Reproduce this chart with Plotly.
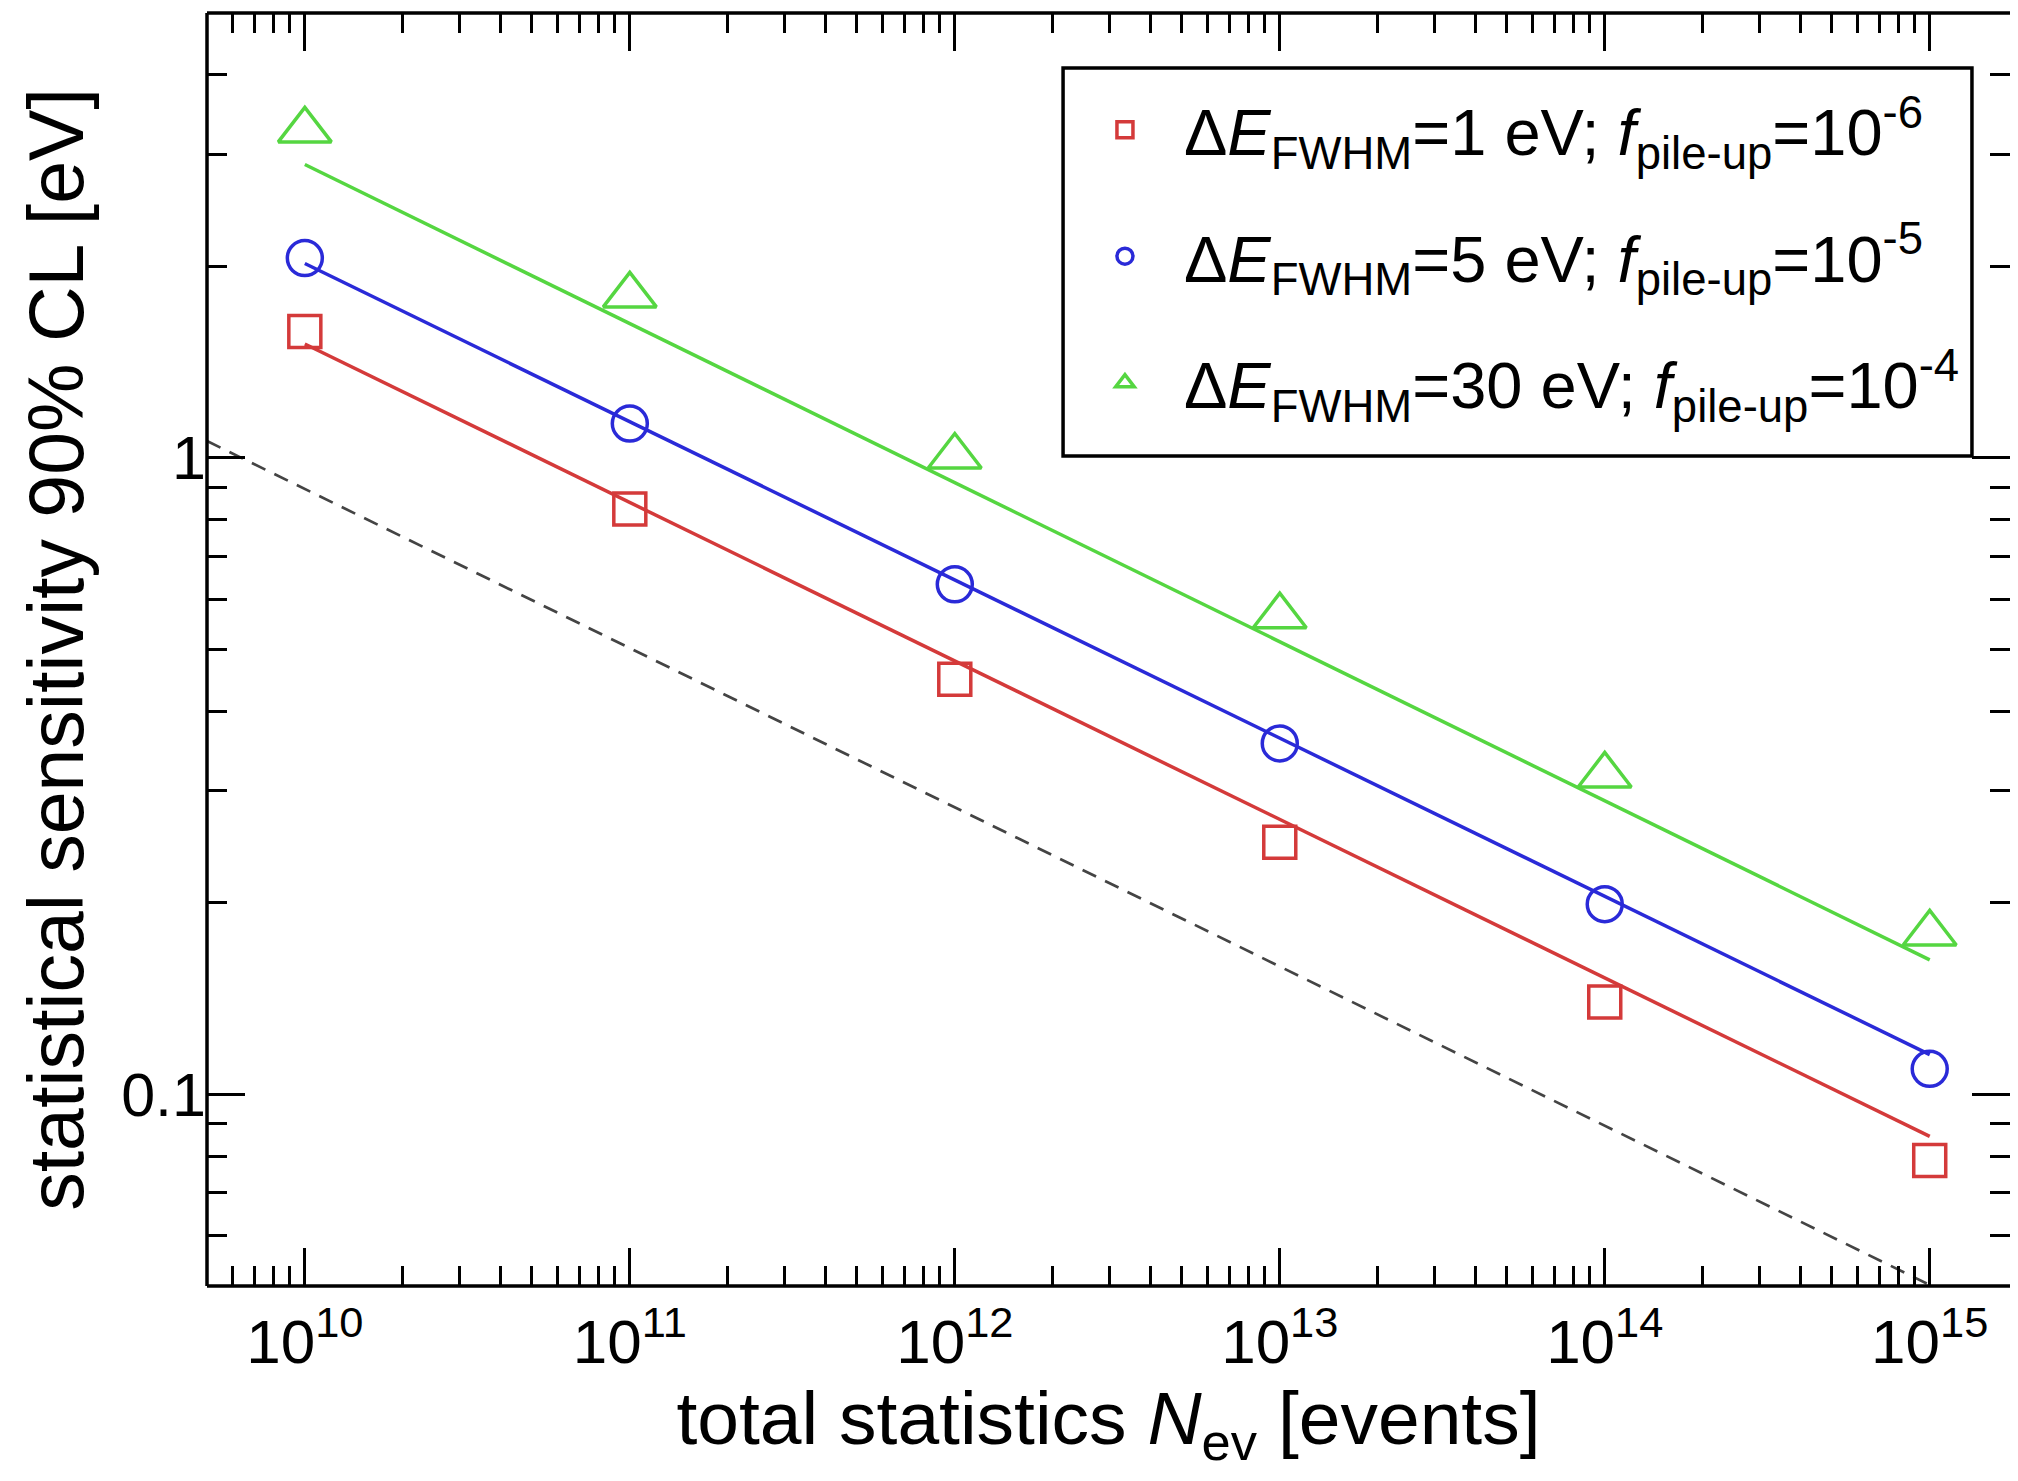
import math
import plotly.graph_objects as go

# ---- data ----
N_events = [1e10, 1e11, 1e12, 1e13, 1e14, 1e15]
sens_1eV = [1.58, 0.831, 0.449, 0.249, 0.1397, 0.0787]
sens_5eV = [2.06, 1.132, 0.633, 0.356, 0.199, 0.1097]
sens_30eV = [3.27, 1.80, 1.005, 0.564, 0.317, 0.179]

fit_N = [1e10, 1e15]
fit_1eV = [1.51, 0.0859]
fit_5eV = [2.02, 0.1155]
fit_30eV = [2.89, 0.1627]

ideal_N = [5e9, 1e15]
ideal_sens = [1.063, 0.0502]

labels = [
    "Δ<i>E</i><sub>FWHM</sub>=1 eV; <i>f</i><sub>pile-up</sub>=10<sup>-6</sup>",
    "Δ<i>E</i><sub>FWHM</sub>=5 eV; <i>f</i><sub>pile-up</sub>=10<sup>-5</sup>",
    "Δ<i>E</i><sub>FWHM</sub>=30 eV; <i>f</i><sub>pile-up</sub>=10<sup>-4</sup>",
]
x_tickvals = [1e10, 1e11, 1e12, 1e13, 1e14, 1e15]
x_ticktext = ["10<sup>10</sup>", "10<sup>11</sup>", "10<sup>12</sup>",
              "10<sup>13</sup>", "10<sup>14</sup>", "10<sup>15</sup>"]
y_tickvals = [0.1, 1]
y_ticktext = ["0.1", "1"]

RED = "#d43a3a"
BLUE = "#2a2ad8"
GREEN = "#55d641"
FONT = "Liberation Sans, Arial, Helvetica, sans-serif"

x_minor = [k * 10 ** n for n in range(9, 16) for k in range(2, 10)]
y_minor = [k * 10 ** n for n in range(-2, 1) for k in range(2, 10)]

fig = go.Figure()

# reference dashed line
fig.add_trace(go.Scatter(x=ideal_N, y=ideal_sens, mode="lines", showlegend=False,
                         line=dict(color="#444444", width=2.7, dash="15px,10px")))

# fit lines
for ys, c in [(fit_1eV, RED), (fit_5eV, BLUE), (fit_30eV, GREEN)]:
    fig.add_trace(go.Scatter(x=fit_N, y=ys, mode="lines", showlegend=False,
                             line=dict(color=c, width=3.5)))

# markers
series = [
    (sens_1eV, RED, "square-open", 32, labels[0]),
    (sens_5eV, BLUE, "circle-open", 35, labels[1]),
    (sens_30eV, GREEN, "triangle-up-open", 46, labels[2]),
]
for i, (ys, c, sym, sz, name) in enumerate(series):
    fig.add_trace(go.Scatter(x=N_events, y=ys, mode="markers", name=name,
                             legendgroup="g%d" % i,
                             marker=dict(symbol=sym, size=sz, color=c,
                                         line=dict(color=c, width=3.5))))

axis_common = dict(
    type="log", showline=False, mirror="ticks",
    ticks="inside", ticklen=38, tickwidth=3, tickcolor="black",
    showgrid=False, zeroline=False,
)

fig.update_xaxes(
    **axis_common,
    range=[math.log10(5e9), 15.247],
    tickmode="array", tickvals=x_tickvals, ticktext=x_ticktext,
    tickfont=dict(family=FONT, size=62, color="black"),
    ticklabelstandoff=14,
    minor=dict(tickmode="array", tickvals=x_minor, ticks="inside", ticklen=20,
               tickwidth=3, tickcolor="black", showgrid=False),
    title=dict(text="total statistics <i>N</i><sub>ev</sub> [events]",
               font=dict(family=FONT, size=75, color="black"), standoff=16),
)
fig.update_yaxes(
    **axis_common,
    range=[math.log10(0.05), math.log10(5)],
    tickmode="array", tickvals=y_tickvals, ticktext=y_ticktext,
    tickfont=dict(family=FONT, size=61, color="black"),
    minor=dict(tickmode="array", tickvals=y_minor, ticks="inside", ticklen=20,
               tickwidth=3, tickcolor="black", showgrid=False),
    title=dict(text="statistical sensitivity 90% CL [eV]",
               font=dict(family=FONT, size=77, color="black"), standoff=12),
)

# plot frame: left, bottom and top edges (the right edge lies outside the picture)
frame = dict(color="black", width=3.5)
fig.add_shape(type="line", xref="paper", yref="paper", x0=0, x1=0, y0=0, y1=1,
              line=frame, layer="above")
fig.add_shape(type="line", xref="paper", yref="paper", x0=0, x1=1, y0=0, y1=0,
              line=frame, layer="above")
fig.add_shape(type="line", xref="paper", yref="paper", x0=0, x1=1, y0=1, y1=1,
              line=frame, layer="above")

# legend frame (drawn as a box in paper coordinates)
fig.add_shape(type="rect", xref="paper", yref="paper",
              x0=0.4748, x1=0.9789, y0=0.6520, y1=0.9568,
              line=dict(color="black", width=3.5), fillcolor="white", layer="above")

fig.update_layout(
    width=2002, height=1465, autosize=False,
    margin=dict(l=199, r=0, t=5, b=187),
    paper_bgcolor="white", plot_bgcolor="white",
    legend=dict(x=0.4764, y=0.9466, xanchor="left", yanchor="top",
                bgcolor="rgba(0,0,0,0)", borderwidth=0,
                font=dict(family=FONT, size=65, color="black"),
                itemwidth=108, tracegroupgap=39),
)

fig.write_html("out.html")
